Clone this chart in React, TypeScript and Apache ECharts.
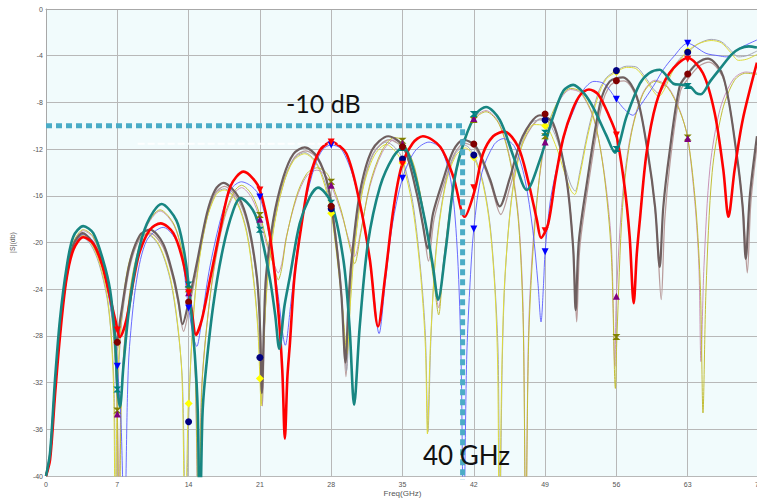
import React, { useEffect, useRef } from "react";
import * as echarts from "echarts";

// ---- axis ticks ----
const xTicks = [0, 7, 14, 21, 28, 35, 42, 49, 56, 63, 70];
const yMin = -40;
const yMax = 0;
const yStep = 4;

// ---- traces [freq GHz, |S| dB] ----
const redTrace = [
  [0,-40],[0.4,-38.6],[0.9,-32.9],[1.4,-27.8],[2.0,-23.2],[2.7,-20.6],[3.66,-19.55],[4.64,-20.1],[5.5,-21.9],[6.1,-24.0],[6.8,-26.6],[7.26,-28.1],[7.9,-26.6],[8.6,-23.2],[9.2,-20.8],[10.2,-18.9],[11.25,-18.36],[12.5,-19.2],[13.5,-21.8],[14.3,-25.8],[14.72,-27.9],[15.3,-26.6],[16.1,-23.2],[17.1,-18.9],[18.1,-15.2],[19.4,-13.93],[20.3,-14.5],[21,-15.5],[22,-19.5],[22.8,-25.8],[23.2,-31],[23.45,-36.8],[23.7,-31.5],[23.95,-28.6],[24.4,-22.9],[25.1,-18.4],[25.9,-14.4],[26.9,-12.1],[28.0,-11.4],[29.5,-12.4],[30.8,-16.6],[31.8,-21.5],[32.6,-27.2],[33.3,-22.9],[34.1,-17.2],[34.9,-13.5],[36.0,-11.5],[37.0,-10.9],[38.7,-11.8],[40.0,-14.4],[41.1,-17.8],[42.1,-15.5],[42.9,-12.4],[43.9,-10.9],[45.0,-10.5],[46.35,-11.8],[47.3,-14.6],[48.2,-18.1],[48.6,-19.6],[49.3,-18.4],[50.0,-14.6],[50.8,-11],[51.7,-8.6],[52.5,-7.3],[53.3,-6.9],[54.2,-7.3],[55.3,-9.2],[56,-10.8],[56.8,-15.2],[57.3,-19.5],[57.7,-25.2],[58.0,-21],[58.3,-18.1],[58.95,-12.4],[59.9,-8.1],[61.2,-5.5],[63.0,-4.2],[64.5,-5.5],[65.65,-8.9],[66.5,-13.8],[67.0,-17.8],[67.6,-13.8],[68.4,-9.5],[69.8,-4.6],
];
const blueTrace = [
  [0,-40],[0.4,-38],[0.9,-32],[1.4,-27.2],[2.0,-22.8],[2.7,-20.3],[3.66,-19.3],[4.64,-19.9],[5.5,-21.8],[6.2,-24.8],[6.8,-28.2],[7.0,-30.6],[7.35,-35],[7.7,-45],[8.0,-33],[8.2,-28.9],[8.9,-23.2],[9.9,-19.8],[11.5,-18.7],[13.1,-20.4],[14.0,-25.6],[14.5,-28.2],[14.8,-28.9],[15.2,-27.2],[16.0,-22.5],[17.2,-17.8],[18.2,-15.4],[19.2,-14.8],[20.2,-15.2],[21.0,-16.1],[22.0,-19.8],[22.8,-24.6],[23.5,-28.8],[24.0,-25.5],[24.6,-21],[25.4,-16.8],[26.4,-13.4],[27.2,-12.0],[28,-11.65],[29,-12.0],[30.2,-14.5],[31.2,-18.5],[32.0,-23],[32.7,-27.8],[33.3,-23.5],[34.0,-18.5],[35.0,-14.5],[36.2,-12.2],[37.6,-11.4],[38.8,-12.0],[39.8,-15],[40.4,-21],[40.75,-30],[41.0,-45],[41.3,-30],[41.6,-24],[42,-18.85],[42.8,-14],[44.0,-11.6],[44.9,-11.1],[46.0,-11.8],[47.0,-14.5],[47.8,-19],[48.3,-23.5],[48.6,-26.8],[48.85,-23.5],[49,-20.8],[49.5,-16.5],[50.1,-13.8],[51.0,-10.5],[51.75,-8.8],[52.7,-7.0],[53.8,-6.2],[54.8,-6.4],[56,-7.74],[56.8,-8.6],[57.6,-9.1],[58.4,-8.2],[59.6,-6.65],[60.6,-5.2],[61.6,-4.1],[63,-2.94],[64.8,-3.8],[66.0,-4.0],[66.8,-4.1],[68,-3.4],[69.8,-2.65],
];
const tealTrace = [
  [0,-40],[0.4,-38],[0.88,-31.8],[1.37,-26.6],[2.03,-22.1],[2.68,-19.5],[3.66,-18.6],[4.64,-19.2],[5.6,-21.5],[6.3,-24.1],[6.75,-28],[7.0,-32.3],[7.26,-34.1],[7.6,-30.6],[8.1,-26.1],[8.9,-21.5],[9.9,-18.4],[11.35,-16.7],[12.8,-18.1],[13.5,-20.5],[14,-23.6],[14.6,-29.5],[14.9,-34.5],[15.1,-45],[15.35,-35],[15.6,-31.8],[16.4,-25.5],[17.4,-20.4],[18.4,-17.2],[19.1,-16.2],[20.3,-17.2],[21,-18.9],[22,-23.2],[22.5,-26.2],[22.9,-29.1],[23.4,-25.5],[23.95,-22.9],[24.9,-18.4],[25.9,-16.1],[26.7,-15.3],[28,-16.6],[29.2,-21.5],[29.8,-27.2],[30.25,-33.9],[30.8,-27.2],[31.6,-20.1],[32.8,-15.2],[34.1,-12.65],[35.1,-11.8],[36,-13.5],[37.2,-18.1],[38.0,-22.1],[38.5,-24.9],[39.2,-20.9],[40.1,-14.6],[41.1,-11.2],[42.3,-8.9],[43.2,-8.4],[44.55,-9.5],[45.9,-12.65],[47.2,-15.5],[48.5,-12.9],[49.8,-9.2],[50.8,-7.0],[51.75,-6.5],[52.8,-7.2],[53.7,-8.4],[55.0,-10.8],[55.85,-12.3],[57.0,-9.2],[58.3,-6.4],[59.2,-5.5],[60.25,-5.2],[61.6,-6.4],[62.55,-6.5],[63.3,-6.7],[63.85,-7.2],[64.3,-7.3],[65.2,-6.2],[66.1,-5.2],[67.3,-3.9],[68.1,-3.4],[69.0,-3.2],[69.8,-3.3],
];
const brownTrace = [
  [0,-40],[0.4,-38.2],[0.88,-32.5],[1.37,-27.3],[2.03,-22.8],[2.68,-20.2],[3.6,-19.2],[4.5,-19.9],[5.3,-21.2],[6.1,-23.8],[6.6,-26.2],[6.95,-28.6],[7.3,-26.5],[8.2,-21.8],[9.2,-19.4],[10.2,-18.9],[11.5,-20.1],[12.5,-22.9],[13.0,-25.0],[13.4,-27.0],[14.0,-25.1],[14.8,-21.8],[15.8,-17.5],[16.6,-15.5],[17.4,-14.9],[18.9,-16.1],[19.85,-18.4],[20.7,-22.9],[21.0,-27],[21.2,-32.9],[21.4,-27],[21.6,-22.9],[22.3,-18.1],[23.3,-14.4],[24.3,-12.4],[25.4,-11.85],[26.6,-12.65],[27.7,-15.2],[28.5,-20.1],[29.0,-24.5],[29.4,-30.3],[29.7,-25],[30.0,-21.5],[30.8,-15.8],[32.0,-12.1],[33.6,-10.9],[35.1,-11.8],[36.4,-15.8],[37.0,-18.5],[37.45,-20.5],[38.0,-17.5],[39.0,-14.6],[40.0,-12.1],[41.0,-11.2],[42.0,-11.6],[42.6,-12.4],[43.6,-14.6],[44.55,-16.9],[45.5,-14.6],[46.8,-10.9],[48.5,-9.1],[49.8,-9.8],[51.1,-14.6],[51.75,-20.4],[52.0,-25.8],[52.3,-20],[53.05,-15.2],[54.4,-8.1],[55.35,-6.2],[56.65,-5.85],[58.0,-7.5],[59.1,-12.4],[59.8,-17],[60.25,-22.1],[60.6,-17],[61.2,-12.4],[62.2,-6.65],[63,-5.57],[64.0,-4.6],[65.0,-4.25],[66.5,-5.8],[67.8,-12.4],[68.4,-17],[68.7,-21.4],[69.1,-16],[69.8,-10.9],
];
const mauveTrace = [
  [0,-40],[0.4,-38.5],[0.88,-32.8],[1.37,-27.6],[2.03,-23.0],[2.68,-20.4],[3.6,-19.4],[4.5,-20.1],[5.3,-21.5],[6.1,-24.2],[6.6,-26.8],[7.0,-29.2],[7.35,-27],[8.2,-22.2],[9.2,-19.7],[10.2,-19.2],[11.5,-20.4],[12.5,-23.2],[13.05,-25.5],[13.5,-27.6],[14.05,-25.6],[14.8,-22.3],[15.8,-17.9],[16.6,-15.8],[17.5,-15.2],[18.9,-16.4],[19.85,-18.7],[20.7,-23.2],[21.05,-27.5],[21.25,-34.0],[21.45,-27.5],[21.7,-23.2],[22.4,-18.3],[23.4,-14.7],[24.4,-12.7],[25.5,-12.15],[26.7,-12.9],[27.8,-15.5],[28.6,-20.5],[29.05,-25],[29.45,-31.5],[29.75,-25.5],[30.1,-21.8],[30.9,-16.1],[32.1,-12.4],[33.7,-11.2],[35.2,-12.1],[36.5,-16.2],[37.1,-19],[37.55,-21.6],[38.1,-18],[39.1,-14.9],[40.1,-12.4],[41.1,-11.5],[42.1,-11.9],[42.7,-12.8],[43.7,-15.1],[44.65,-17.6],[45.6,-15.1],[46.9,-11.3],[48.6,-9.4],[49.9,-10.2],[51.2,-15.2],[51.8,-21],[52.1,-26.8],[52.4,-20.5],[53.15,-15.6],[54.5,-8.5],[55.45,-6.5],[56.75,-6.15],[58.1,-7.9],[59.2,-13],[59.9,-18],[60.4,-24.9],[60.75,-18],[61.3,-12.9],[62.3,-7.0],[63.1,-5.9],[64.1,-4.9],[65.1,-4.55],[66.6,-6.2],[67.9,-13],[68.5,-17.8],[68.85,-22.6],[69.2,-16.6],[69.8,-11.8],
];
const greyTrace = [
  [0,-40],[0.4,-38.6],[0.88,-33],[1.37,-27.8],[2.03,-23.2],[2.68,-20.6],[3.5,-19.5],[4.4,-20.2],[5.2,-21.8],[6.0,-24.8],[6.45,-28.5],[6.7,-33],[6.85,-45],[7.05,-33],[7.4,-27],[8.0,-22.5],[8.9,-20.0],[9.9,-19.3],[11.1,-20.3],[12.2,-23.2],[12.9,-27],[13.4,-32],[13.7,-45],[14.0,-35.35],[14.3,-28.5],[14.8,-23],[15.7,-18.2],[16.7,-15.8],[17.5,-15.4],[18.7,-16.4],[19.7,-19.0],[20.4,-23.2],[20.8,-27],[21.0,-29.85],[21.15,-33.8],[21.35,-29],[21.7,-23.5],[22.4,-18.4],[23.3,-14.8],[24.3,-12.9],[25.4,-12.3],[26.5,-13.1],[27.4,-14.9],[28,-17.1],[28.6,-21],[29.1,-25.5],[29.5,-31],[29.85,-25.5],[30.2,-21],[31.0,-15.8],[32.1,-12.5],[33.4,-11.4],[34.3,-11.9],[35,-12.85],[36.0,-16.5],[36.8,-22.5],[37.25,-28],[37.5,-36.2],[37.8,-28],[38.3,-20.5],[39.2,-15.0],[40.2,-12.4],[41.2,-11.7],[42,-12.5],[42.9,-14.8],[43.6,-18.5],[44.1,-24],[44.4,-30],[44.55,-45],[44.8,-30],[45.1,-22.5],[45.8,-15.5],[46.8,-11.3],[47.9,-9.6],[49,-9.5],[50.0,-10.8],[50.9,-13.3],[51.5,-15.0],[51.95,-15.6],[52.4,-14],[53.2,-10.5],[54.2,-7.2],[55.0,-5.9],[56,-5.28],[57.0,-4.9],[57.9,-4.95],[58.8,-5.8],[59.6,-6.8],[60.1,-7.2],[60.7,-6.6],[61.6,-5.0],[62.4,-4.1],[63,-3.71],[64.0,-3.0],[65.3,-2.6],[66.3,-2.8],[67.2,-3.5],[68.0,-4.1],[68.8,-4.0],[69.8,-3.6],
];
const yellowTrace = [
  [0,-40],[0.4,-38.4],[0.88,-32.8],[1.37,-27.6],[2.03,-23.0],[2.68,-20.4],[3.5,-19.4],[4.4,-20.0],[5.2,-21.6],[6.0,-24.5],[6.4,-28],[6.65,-33],[6.8,-45],[7.0,-33],[7.35,-27],[8.0,-22.3],[8.9,-19.9],[9.9,-19.2],[11.1,-20.2],[12.2,-23.0],[12.9,-26.8],[13.35,-31.5],[13.65,-45],[13.95,-34.2],[14.0,-33.8],[14.3,-28.8],[14.8,-23.2],[15.7,-18.3],[16.7,-15.9],[17.5,-15.5],[18.7,-16.5],[19.7,-19.2],[20.4,-23.5],[20.8,-27.5],[21.0,-31.65],[21.12,-34.0],[21.3,-30],[21.7,-23.8],[22.4,-18.6],[23.3,-15],[24.3,-13.0],[25.4,-12.4],[26.5,-13.2],[27.4,-15.2],[28,-17.5],[28.6,-21.5],[29.1,-25.5],[29.55,-29.5],[29.9,-25],[30.3,-20.5],[31.1,-15.5],[32.2,-12.6],[33.4,-11.6],[34.3,-12.2],[35,-13.2],[36.0,-17],[36.8,-23],[37.25,-29],[37.45,-36.4],[37.75,-28.5],[38.3,-20.8],[39.2,-15.2],[40.2,-12.6],[41.2,-11.9],[42,-12.7],[42.9,-15],[43.6,-18.8],[44.1,-24.5],[44.35,-31],[44.5,-45],[44.75,-31],[45.05,-23],[45.8,-15.7],[46.8,-11.5],[47.9,-9.9],[49,-10.0],[50.0,-11.6],[50.9,-14],[51.5,-15.5],[51.9,-15.9],[52.4,-14.3],[53.2,-10.8],[54.2,-7.5],[55.0,-6.0],[56,-5.4],[57.0,-5.0],[57.9,-5.1],[58.8,-6.0],[59.6,-7.0],[60.15,-7.5],[60.7,-6.9],[61.6,-5.2],[62.4,-4.2],[63,-3.6],[64.0,-3.0],[65.3,-2.7],[66.3,-2.9],[67.2,-3.7],[68.0,-4.4],[68.8,-4.3],[69.8,-3.9],
];
const pinkTrace = [
  [0,-40],[0.4,-38.4],[0.88,-32.6],[1.37,-27.4],[2.03,-22.9],[2.68,-20.1],[3.66,-19.0],[4.64,-19.6],[5.6,-22],[6.3,-25.2],[6.75,-29.5],[7.0,-34.7],[7.15,-45],[7.35,-34],[7.8,-27.5],[8.6,-22.5],[9.8,-18.8],[11.2,-17.3],[12.6,-18.6],[13.5,-21.5],[14,-24.3],[14.6,-30],[14.95,-45],[15.25,-33],[15.7,-27.8],[16.5,-22.3],[17.5,-18],[18.5,-15.8],[19.2,-15.3],[20.2,-16.2],[21,-18.0],[21.8,-20.6],[22.45,-22.0],[22.8,-22.6],[23.15,-21.8],[23.6,-19.5],[24.6,-16.2],[25.6,-14.3],[26.6,-13.8],[27.5,-14.3],[28,-15.1],[29.0,-17.5],[29.8,-20],[30.3,-21.2],[30.9,-19],[31.8,-15.2],[33,-12.3],[34.2,-11.2],[35,-11.5],[36.2,-13.8],[37.4,-19],[38.1,-23],[38.55,-25.6],[39.0,-21.8],[40,-15],[41,-11.5],[42,-9.37],[43.2,-8.7],[44.5,-9.8],[45.6,-13],[46.4,-18],[46.85,-26],[47.1,-45],[47.4,-27],[48.0,-18],[49,-11.4],[50.2,-8.2],[51.5,-6.9],[52.5,-7.2],[53.8,-9.5],[54.8,-14],[55.5,-20],[55.85,-30.6],[56.0,-24.6],[56.6,-16],[57.4,-10.8],[58.6,-7.2],[59.8,-6.1],[61,-6.6],[62.2,-8.6],[63,-11.1],[63.7,-16.5],[64.1,-22],[64.3,-30.2],[64.6,-22],[65.2,-13.5],[66.2,-8.5],[67.5,-6.0],[68.7,-5.4],[69.8,-5.5],
];
const oliveTrace = [
  [0,-40],[0.4,-38.2],[0.88,-32.4],[1.37,-27.2],[2.03,-22.7],[2.68,-20.0],[3.66,-18.9],[4.64,-19.5],[5.6,-21.9],[6.3,-25],[6.75,-29.2],[7.0,-34.4],[7.2,-45],[7.4,-33.5],[7.85,-27.2],[8.6,-22.3],[9.8,-18.7],[11.2,-17.2],[12.6,-18.5],[13.5,-21.3],[14,-24],[14.6,-29.7],[15.0,-45],[15.3,-32.5],[15.75,-27.5],[16.5,-22.1],[17.5,-17.8],[18.5,-15.6],[19.2,-15.1],[20.2,-15.9],[21,-17.65],[21.8,-20.3],[22.45,-22.3],[22.8,-23.2],[23.15,-22.2],[23.6,-19.6],[24.6,-16.0],[25.6,-14.1],[26.6,-13.6],[27.5,-14.0],[28,-14.8],[29.0,-17.3],[29.8,-20.3],[30.3,-21.8],[30.9,-19.2],[31.8,-15.0],[33,-12.1],[34.2,-11.0],[35,-11.28],[36.2,-13.6],[37.4,-19.2],[38.1,-23.5],[38.55,-26.2],[39.0,-22],[40,-15.2],[41,-11.6],[42,-9.5],[43.2,-8.8],[44.5,-9.9],[45.6,-13.2],[46.4,-18.4],[46.85,-27],[47.1,-45],[47.4,-28],[48.0,-18.5],[49,-10.9],[50.2,-8.0],[51.5,-6.8],[52.5,-7.1],[53.8,-9.4],[54.8,-14.2],[55.5,-21],[55.9,-32.5],[56.05,-28.1],[56.6,-17],[57.4,-11],[58.6,-7.3],[59.8,-6.2],[61,-6.7],[62.2,-8.7],[63,-11.0],[63.8,-17],[64.25,-24],[64.5,-34.6],[64.8,-24],[65.4,-14],[66.4,-8.7],[67.6,-6.1],[68.7,-5.5],[69.8,-5.6],
];

// ---- markers at every 7 GHz ----
const markerFreqs = [7, 14, 21, 28, 35, 42, 49, 56, 63];
const redMarks = [-27.5, -24.3, -15.5, -11.4, -13.3, -15.3, -19.0, -10.8, -4.31];
const blueMarks = [-30.6, -25.6, -16.1, -11.65, -14.5, -18.85, -20.8, -7.74, -2.94];
const tealMarks = [-32.6, -23.6, -18.9, -16.6, -11.9, -9.0, -10.6, -12.0, -6.6];
const purpleMarks = [-34.7, -24.3, -18.0, -15.1, -11.5, -9.37, -11.4, -24.6, -11.1];
const oliveMarks = [-34.4, -24.0, -17.65, -14.8, -11.28, -9.5, -10.9, -28.1, -11.0];
const darkRedMarks = [-28.55, -25.1, null, -16.9, -11.8, -11.56, -9.0, -6.14, -5.57];
const navyMarks = [null, -35.35, -29.85, -17.1, -12.85, -12.5, -9.5, -5.28, -3.71];
const yellowMarks = [null, -33.8, -31.65, -17.5, -13.2, -12.7, -10.0, -5.4, -3.6];

// ---- annotations ----
const limitDb = -10;
const limitFreq = 40.9;
const guideLine = [[0, limitDb], [limitFreq, limitDb], [limitFreq, -40.3]];
const smudgeLine = [[9, -11.55], [29, -11.55]];

const triDown = "path://M0,0L10,0L5,9Z";
const hourglass = "path://M0,0L10,0L6,5L10,10L0,10L4,5Z";

function pairs(vals: (number | null)[]) {
  const out: number[][] = [];
  vals.forEach((v, i) => {
    if (v !== null) out.push([markerFreqs[i], v]);
  });
  return out;
}

function trace(name: string, data: number[][], color: string, width: number) {
  return {
    name,
    type: "line",
    data,
    smooth: 0.3,
    showSymbol: false,
    symbol: "none",
    clip: true,
    lineStyle: { color, width },
    z: 2,
  };
}

function marks(name: string, vals: (number | null)[], color: string, symbol: string, size: number | number[]) {
  return {
    name,
    type: "scatter",
    data: pairs(vals),
    symbol,
    symbolSize: size,
    itemStyle: { color, opacity: 1 },
    z: 5,
  };
}

export default function App() {
  const ref = useRef<HTMLDivElement>(null);
  useEffect(() => {
    document.body.style.margin = "0";
    if (!ref.current) return;
    const chart = echarts.init(ref.current, null, { renderer: "svg" });
    const labelStyle = { fontSize: 7, color: "#555", fontFamily: "Liberation Sans" };
    chart.setOption({
      animation: false,
      backgroundColor: "#ffffff",
      grid: {
        left: 46,
        top: 9,
        width: 713,
        height: 467,
        show: true,
        backgroundColor: "#f1fbfc",
        borderWidth: 0,
        containLabel: false,
        outerBoundsMode: "none",
      },
      xAxis: {
        type: "value",
        min: xTicks[0],
        max: xTicks[xTicks.length - 1],
        interval: 7,
        axisLine: { show: true, lineStyle: { color: "#a8a8a8" } },
        axisTick: { show: false },
        splitLine: { show: true, lineStyle: { color: "#b8b8b8", width: 1 } },
        axisLabel: { ...labelStyle, margin: 5 },
        name: "Freq(GHz)",
        nameLocation: "middle",
        nameGap: 13,
        nameMoveOverlap: false,
        nameTextStyle: { fontSize: 8, color: "#555", fontFamily: "Liberation Sans" },
      },
      yAxis: {
        type: "value",
        min: yMin,
        max: yMax,
        interval: yStep,
        axisLine: { show: true, lineStyle: { color: "#a8a8a8" } },
        axisTick: { show: false },
        splitLine: { show: true, lineStyle: { color: "#b8b8b8", width: 1 } },
        axisLabel: { ...labelStyle, margin: 3 },
        name: "|S|(db)",
        nameLocation: "middle",
        nameGap: 30,
        nameMoveOverlap: false,
        nameTextStyle: { fontSize: 7, color: "#555", fontFamily: "Liberation Sans" },
      },
      series: [
        trace("mauve", mauveTrace, "#b99c9c", 1.3),
        trace("grey", greyTrace, "#a4a4b2", 1),
        trace("yellow", yellowTrace, "#dedb3a", 1),
        trace("pink", pinkTrace, "#c994b8", 1),
        trace("olive", oliveTrace, "#c2bd36", 1),
        trace("blue", blueTrace, "#5a5aff", 0.9),
        trace("brown", brownTrace, "#6e5f5f", 2.2),
        trace("red", redTrace, "#ff0000", 2.6),
        trace("teal", tealTrace, "#188682", 2.6),
        {
          name: "smudge",
          type: "line",
          data: smudgeLine,
          showSymbol: false,
          symbol: "none",
          lineStyle: { color: "#ffffff", width: 2, type: [7, 3], opacity: 0.9 },
          z: 3,
        },
        {
          name: "guide",
          type: "line",
          data: guideLine,
          showSymbol: false,
          symbol: "none",
          clip: false,
          lineStyle: { color: "#4bacc6", width: 5, type: [6, 4], cap: "butt" },
          z: 4,
        },
        marks("m-olive", oliveMarks, "#808000", hourglass, [8, 6]),
        marks("m-purple", purpleMarks, "#800080", "triangle", 7),
        marks("m-teal", tealMarks, "#008080", hourglass, [8, 6]),
        marks("m-yellow", yellowMarks, "#ffff00", "diamond", 8),
        marks("m-navy", navyMarks, "#000080", "circle", 7),
        marks("m-darkred", darkRedMarks, "#800000", "circle", 7),
        marks("m-blue", blueMarks, "#0000ff", triDown, 7),
        marks("m-red", redMarks, "#ff0000", triDown, 7),
      ],
      graphic: [
        {
          type: "text",
          left: 286,
          top: 90,
          style: { text: "-10 dB", fontSize: 25, fontFamily: "Lato", fill: "#111" },
          z: 10,
        },
        {
          type: "text",
          left: 423,
          top: 442,
          style: { text: "40 GHz", fontSize: 26, fontFamily: "Lato", fill: "#111" },
          z: 10,
        },
      ],
    });
    return () => chart.dispose();
  }, []);
  return <div ref={ref} style={{ width: 757, height: 499 }} />;
}
